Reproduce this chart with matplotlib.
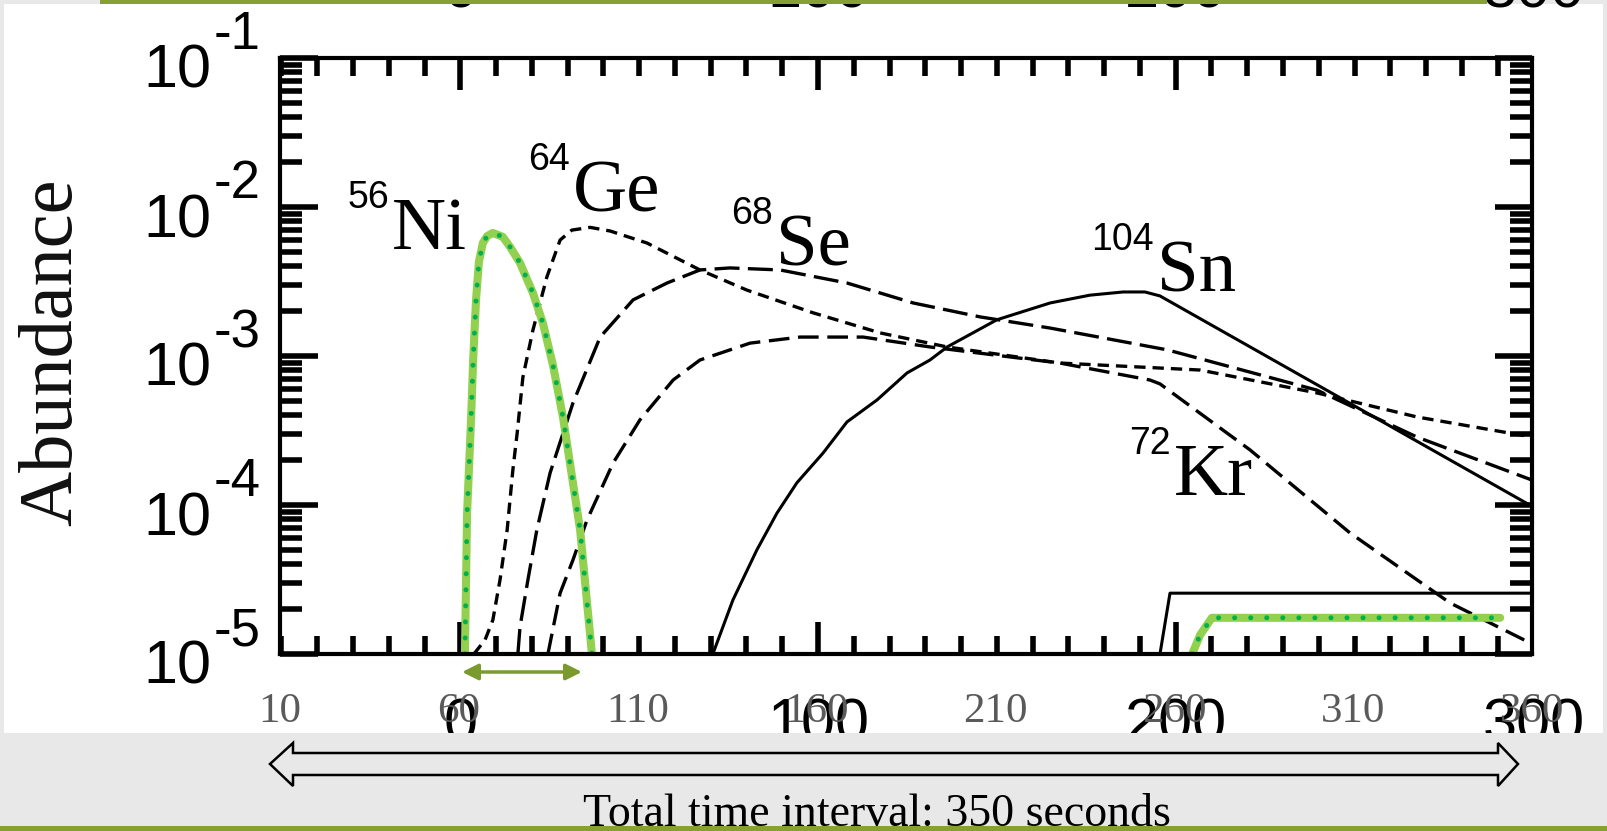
import matplotlib
matplotlib.use('Agg')
import matplotlib.pyplot as plt
import matplotlib.transforms as mtransforms
from matplotlib.patches import Rectangle, Polygon
from matplotlib.ticker import MultipleLocator, LogLocator, NullFormatter
import numpy as np

# ---- values: time [s] (slide scale), abundance ----
ni_t = [61.7, 62.3, 63.4, 64.0, 64.8, 65.6, 66.7, 67.9, 69.5, 72.3, 74.3, 77.1,
        80.7, 83.5, 86.3, 89.1, 90.5, 93.9, 97.2]
ni_y = [1.0e-5, 8.8e-5, 3.7e-4, 9.4e-4, 2.38e-3, 4.28e-3, 5.73e-3, 6.38e-3, 6.70e-3,
        6.30e-3, 5.40e-3, 4.21e-3, 2.65e-3, 1.66e-3, 8.7e-4, 3.9e-4, 2.34e-4, 6.8e-5, 1.0e-5]

ge_t = [64.2, 67.3, 69.5, 71.5, 73.5, 75.1, 76.3, 77.9, 80.7, 84.6, 88.3, 91.6, 96.7,
        102.3, 112.6, 127.4, 140.5, 159.0, 177.7, 196.5, 228.0, 267.2, 299.9, 327.8, 360.0]
ge_y = [1.0e-5, 1.24e-5, 1.69e-5, 3.14e-5, 6.8e-5, 1.72e-4, 3.04e-4, 7.2e-4, 1.49e-3,
        3.39e-3, 6.0e-3, 7.0e-3, 7.3e-3, 6.9e-3, 5.73e-3, 3.78e-3, 2.77e-3, 1.95e-3,
        1.43e-3, 1.15e-3, 8.97e-4, 8.05e-4, 5.65e-4, 3.9e-4, 2.86e-4]

se_t = [76.5, 77.1, 79.3, 81.8, 85.5, 91.9, 99.5, 108.7, 118.2, 127.4, 135.8, 149.8,
        168.5, 187.0, 205.7, 225.3, 258.0, 299.9, 327.8, 360.0]
se_y = [1.0e-5, 1.52e-5, 3.14e-5, 6.8e-5, 1.64e-4, 4.84e-4, 1.34e-3, 2.38e-3, 3.09e-3,
        3.78e-3, 3.90e-3, 3.78e-3, 3.09e-3, 2.27e-3, 1.83e-3, 1.54e-3, 1.10e-3, 5.9e-4,
        2.86e-4, 1.47e-4]

kr_t = [84.9, 88.3, 91.9, 95.8, 103.1, 110.6, 119.9, 127.4, 141.4, 155.4, 173.0, 191.7,
        214.9, 228.0, 253.2, 256.0, 281.2, 309.1, 337.1, 360.0]
kr_y = [1.0e-5, 2.56e-5, 4.28e-5, 7.9e-5, 1.91e-4, 3.72e-4, 6.9e-4, 9.4e-4, 1.22e-3,
        1.34e-3, 1.34e-3, 1.15e-3, 9.8e-4, 8.97e-4, 6.9e-4, 6.5e-4, 2.34e-4, 6.5e-5,
        2.2e-5, 1.17e-5]

sn_t = [131.0, 136.6, 143.3, 148.9, 154.5, 161.8, 168.5, 176.9, 185.3, 191.7, 196.5,
        210.4, 225.3, 236.4, 245.7, 251.8, 256.0, 360.0]
sn_y = [1.0e-5, 2.30e-5, 4.99e-5, 8.8e-5, 1.41e-4, 2.23e-4, 3.61e-4, 5.07e-4, 7.7e-4,
        9.4e-4, 1.15e-3, 1.75e-3, 2.27e-3, 2.56e-3, 2.69e-3, 2.69e-3, 2.53e-3, 9.8e-5]

step_t = [256.0, 258.8, 360.0]
step_y = [1.0e-5, 2.56e-5, 2.56e-5]

late_t = [265.0, 267.2, 270.5, 351.1]
late_y = [1.0e-5, 1.34e-5, 1.75e-5, 1.75e-5]

slide_ticks = [10, 60, 110, 160, 210, 260, 310, 360]
paper_ticks = [0, 100, 200, 300]
y_exps = [-1, -2, -3, -4, -5]

# (mass number, symbol, x, abundance at symbol baseline)
iso_labels = [('56', 'Ni', 41.3, 5.22e-3), ('64', 'Ge', 91.9, 9.4e-3),
              ('68', 'Se', 148.7, 4.08e-3), ('104', 'Sn', 255.2, 2.73e-3),
              ('72', 'Kr', 259.9, 1.17e-4)]

W, H = 1608, 831
BGCOL = '#e8e8e8'
OLIVE = '#86a034'
SANS = 'Liberation Sans'
SERIF = 'Liberation Serif'

fig = plt.figure(figsize=(W / 100, H / 100), dpi=100, facecolor=BGCOL)

# backdrop in pixel coordinates
bg = fig.add_axes([0, 0, 1, 1], zorder=0)
bg.set_xlim(0, W)
bg.set_ylim(H, 0)
bg.axis('off')
bg.add_patch(Rectangle((4, 4), 1599, 729, facecolor='white', edgecolor='none'))

x0, x1, y0, y1 = 280, 1532, 58, 654
ax = fig.add_axes([x0 / W, 1 - y1 / H, (x1 - x0) / W, (y1 - y0) / H], zorder=1)
ax.set_facecolor('white')

ax.plot(sn_t, sn_y, color='k', lw=2.2)
ax.plot(step_t, step_y, color='k', lw=2.2)
ax.plot(ge_t, ge_y, color='k', lw=2.4, dashes=(3.4, 2.1))
ax.plot(se_t, se_y, color='k', lw=2.4, dashes=(7.5, 2.5))
ax.plot(kr_t, kr_y, color='k', lw=2.4, dashes=(6.2, 2.6))
ax.plot(ni_t, ni_y, color='k', lw=2.2)
for t, y in [(ni_t, ni_y), (late_t, late_y)]:
    ax.plot(t, y, color='#92d050', lw=5.8, solid_capstyle='round', solid_joinstyle='round')
    ax.plot(t, y, color='#00b050', lw=3.6, dashes=(0.01, 3.2), dash_capstyle='round')

ax.set_yscale('log')
ax.set_xlim(10, 360)
ax.set_ylim(1e-5, 1e-1)
ax.xaxis.set_major_locator(MultipleLocator(100, offset=60.4))
ax.xaxis.set_minor_locator(MultipleLocator(10, offset=0.4))
ax.yaxis.set_minor_locator(LogLocator(base=10, subs=np.arange(2, 10)))
ax.yaxis.set_minor_formatter(NullFormatter())
ax.tick_params(which='both', direction='in', top=True, right=True,
               labelbottom=False, labelleft=False, width=4, color='k')
ax.tick_params(axis='x', which='major', length=23)
ax.tick_params(axis='x', which='minor', length=13)
ax.tick_params(axis='y', which='major', length=27)
ax.tick_params(axis='y', which='minor', length=16)
for s in ax.spines.values():
    s.set_linewidth(3)

# isotope labels
sup_tr = mtransforms.offset_copy(ax.transData, fig=fig, x=-3, y=41, units='dots')
for mass, sym, xl, yl in iso_labels:
    ax.text(xl, yl, sym, ha='left', va='baseline', fontsize=54, family=SERIF)
    ax.text(xl, yl, mass, transform=sup_tr, ha='right', va='baseline',
            fontsize=27, family=SANS)

# paper's own tick labels (cut by the slide band) and their remnants at the top
xb = mtransforms.blended_transform_factory(ax.transData, bg.transData)
for p in paper_ticks:
    bg.text(60.4 + p, 742, str(p), transform=xb, ha='center', va='baseline',
            fontsize=44, family=SANS, color='k')
    bg.text(60.4 + p, 8, str(p), transform=xb, ha='center', va='baseline',
            fontsize=44, family=SANS, color='k')

# overlay in pixel coordinates
ov = fig.add_axes([0, 0, 1, 1], zorder=3)
ov.set_xlim(0, W)
ov.set_ylim(H, 0)
ov.axis('off')
ov.add_patch(Rectangle((0, 733), W, 93, facecolor=BGCOL, edgecolor='none'))
ov.add_patch(Rectangle((0, 826), W, 5, facecolor=OLIVE, edgecolor='none'))
ov.add_patch(Rectangle((100, 0), 1387, 4, facecolor=OLIVE, edgecolor='none'))

xt = mtransforms.blended_transform_factory(ax.transData, ov.transData)
for v in slide_ticks:
    ov.text(v, 722, str(v), transform=xt, ha='center', va='baseline',
            fontsize=31, family=SERIF, color='#5a5a5a')

yt = mtransforms.blended_transform_factory(ov.transData, ax.transData)
base_tr = mtransforms.offset_copy(yt, fig=fig, y=-30, units='dots')
exp_tr = mtransforms.offset_copy(yt, fig=fig, y=9, units='dots')
for e in y_exps:
    ov.text(211, 10.0 ** e, '10', transform=base_tr, ha='right', va='baseline',
            fontsize=44, family=SANS)
    ov.text(214, 10.0 ** e, '-%d' % abs(e), transform=exp_tr, ha='left',
            va='baseline', fontsize=38, family=SANS)

ov.text(53, 352, 'Abundance', rotation=90, ha='center', va='center',
        fontsize=55, family=SERIF, color='#111111')

# Ni lifetime arrow
ov.annotate('', xy=(60.9, 672), xytext=(94.4, 672), xycoords=xt, textcoords=xt,
            arrowprops=dict(arrowstyle='<|-|>', color='#7a9a2e', lw=2.5,
                            mutation_scale=24, shrinkA=0, shrinkB=0))

# total interval double arrow
arrow_pts = [(270, 764), (293, 743), (293, 753), (1498, 753), (1498, 743), (1518, 764),
             (1498, 786), (1498, 775), (293, 775), (293, 786)]
ov.add_patch(Polygon(arrow_pts, closed=True, facecolor='none', edgecolor='k',
                     lw=1.8, joinstyle='miter'))
ov.text(877, 826, 'Total time interval: 350 seconds', ha='center', va='baseline',
        fontsize=33, family=SERIF, color='k')

fig.savefig('out.png', dpi=100, facecolor=fig.get_facecolor())
